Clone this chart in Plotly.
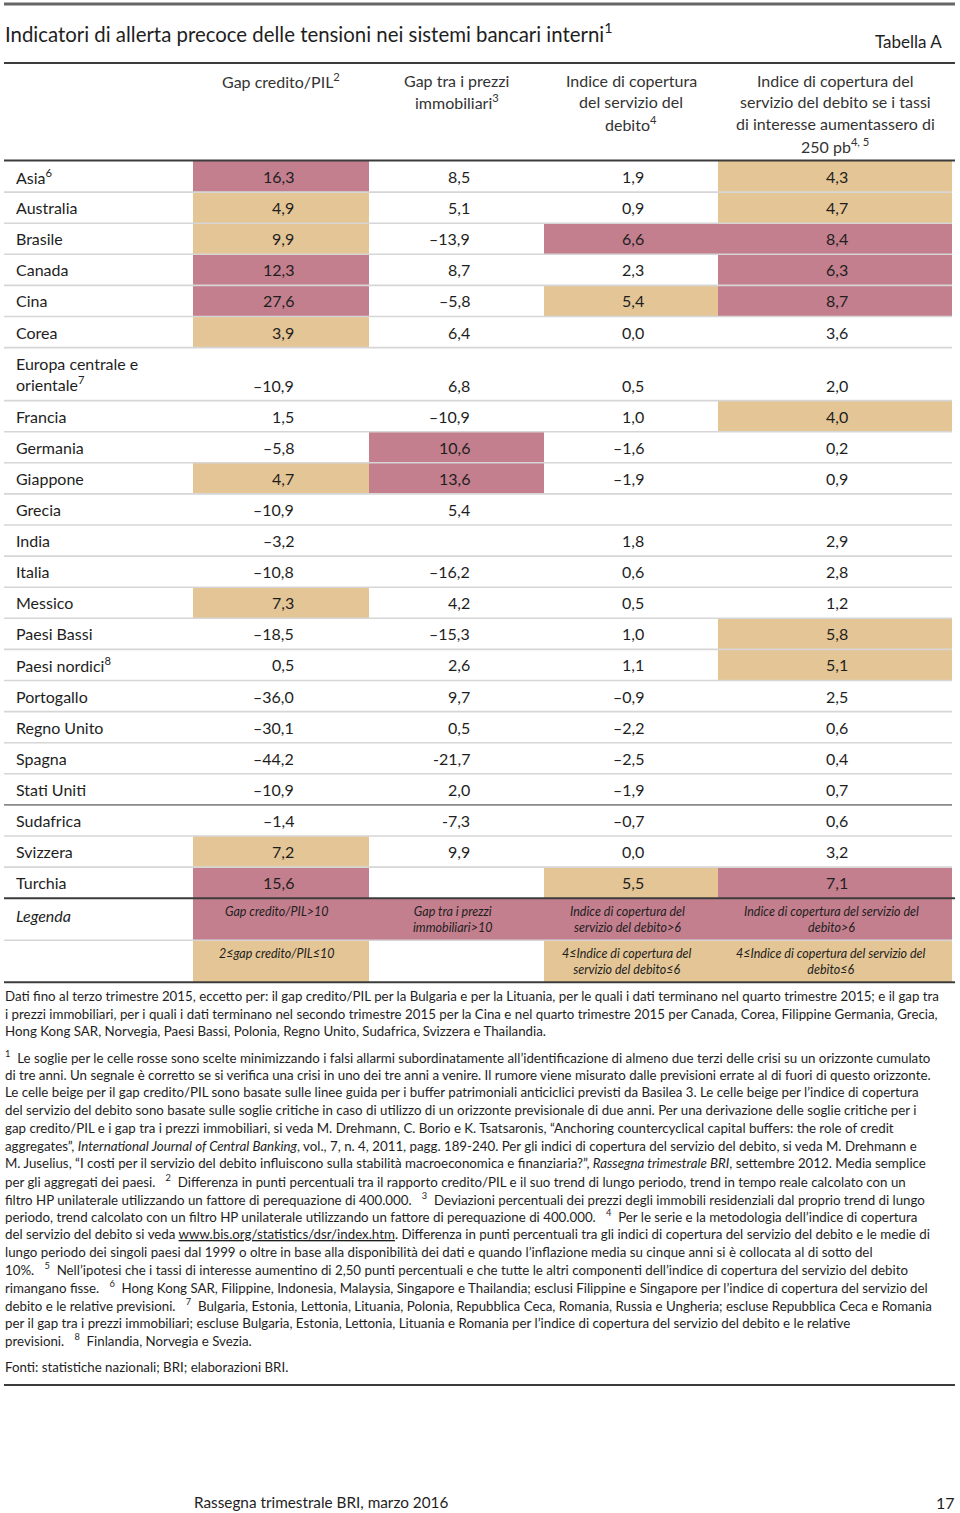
import plotly.graph_objects as go

# ---------------- data ----------------
countries = ["Asia<sup>6</sup>", "Australia", "Brasile", "Canada", "Cina", "Corea",
             "Europa centrale e<br>orientale<sup>7</sup>", "Francia", "Germania", "Giappone",
             "Grecia", "India", "Italia", "Messico", "Paesi Bassi", "Paesi nordici<sup>8</sup>",
             "Portogallo", "Regno Unito", "Spagna", "Stati Uniti", "Sudafrica", "Svizzera", "Turchia"]
credit_gap = [16.3, 4.9, 9.9, 12.3, 27.6, 3.9, -10.9, 1.5, -5.8, 4.7, -10.9, -3.2, -10.8, 7.3,
              -18.5, 0.5, -36.0, -30.1, -44.2, -10.9, -1.4, 7.2, 15.6]
property_gap = [8.5, 5.1, -13.9, 8.7, -5.8, 6.4, 6.8, -10.9, 10.6, 13.6, 5.4, None, -16.2, 4.2,
                -15.3, 2.6, 9.7, 0.5, -21.7, 2.0, -7.3, 9.9, None]
dsr = [1.9, 0.9, 6.6, 2.3, 5.4, 0.0, 0.5, 1.0, -1.6, -1.9, None, 1.8, 0.6, 0.5, 1.0, 1.1, -0.9,
       -2.2, -2.5, -1.9, -0.7, 0.0, 5.5]
dsr_250 = [4.3, 4.7, 8.4, 6.3, 8.7, 3.6, 2.0, 4.0, 0.2, 0.9, None, 2.9, 2.8, 1.2, 5.8, 5.1, 2.5,
           0.6, 0.4, 0.7, 0.6, 3.2, 7.1]
hyphen_cells = [(18, 1), (20, 1)]  # cells printed with a plain hyphen in the source

headers = ["Gap credito/PIL<sup>2</sup>",
           "Gap tra i prezzi<br>immobiliari<sup>3</sup>",
           "Indice di copertura<br>del servizio del<br>debito<sup>4</sup>",
           "Indice di copertura del<br>servizio del debito se i tassi<br>di interesse aumentassero di<br>250 pb<sup>4, 5</sup>"]
red_threshold = [10, 10, 6, 6]
beige_threshold = [2, None, 4, 4]
legend_red = ["Gap credito/PIL>10", "Gap tra i prezzi<br>immobiliari>10",
              "Indice di copertura del<br>servizio del debito>6",
              "Indice di copertura del servizio del<br>debito>6"]
legend_beige = ["2≤gap credito/PIL≤10", "",
                "4≤Indice di copertura del<br>servizio del debito≤6",
                "4≤Indice di copertura del servizio del<br>debito≤6"]
legend_beige_class = [1, 0, 1, 1]

title = "Indicatori di allerta precoce delle tensioni nei sistemi bancari interni<sup>1</sup>"
table_tag = "Tabella A"
note_lines = [
    "Dati fino al terzo trimestre 2015, eccetto per: il gap credito/PIL per la Bulgaria e per la Lituania, per le quali i dati terminano nel quarto trimestre 2015; e il gap tra",
    "i prezzi immobiliari, per i quali i dati terminano nel secondo trimestre 2015 per la Cina e nel quarto trimestre 2015 per Canada, Corea, Filippine Germania, Grecia,",
    "Hong Kong SAR, Norvegia, Paesi Bassi, Polonia, Regno Unito, Sudafrica, Svizzera e Thailandia.",
]
S = "\u00a0\u00a0\u00a0"
foot_lines = [
    "<sup>1</sup>\u00a0 Le soglie per le celle rosse sono scelte minimizzando i falsi allarmi subordinatamente all’identificazione di almeno due terzi delle crisi su un orizzonte cumulato",
    "di tre anni. Un segnale è corretto se si verifica una crisi in uno dei tre anni a venire. Il rumore viene misurato dalle previsioni errate al di fuori di questo orizzonte.",
    "Le celle beige per il gap credito/PIL sono basate sulle linee guida per i buffer patrimoniali anticiclici previsti da Basilea 3. Le celle beige per l’indice di copertura",
    "del servizio del debito sono basate sulle soglie critiche in caso di utilizzo di un orizzonte previsionale di due anni. Per una derivazione delle soglie critiche per i",
    "gap credito/PIL e i gap tra i prezzi immobiliari, si veda M. Drehmann, C. Borio e K. Tsatsaronis, “Anchoring countercyclical capital buffers: the role of credit",
    "aggregates”, <i>International Journal of Central Banking</i>, vol., 7, n. 4, 2011, pagg. 189-240. Per gli indici di copertura del servizio del debito, si veda M. Drehmann e",
    "M. Juselius, “I costi per il servizio del debito influiscono sulla stabilità macroeconomica e finanziaria?”, <i>Rassegna trimestrale BRI</i>, settembre 2012. Media semplice",
    "per gli aggregati dei paesi." + S + "<sup>2</sup>\u00a0 Differenza in punti percentuali tra il rapporto credito/PIL e il suo trend di lungo periodo, trend in tempo reale calcolato con un",
    "filtro HP unilaterale utilizzando un fattore di perequazione di 400.000." + S + "<sup>3</sup>\u00a0 Deviazioni percentuali dei prezzi degli immobili residenziali dal proprio trend di lungo",
    "periodo, trend calcolato con un filtro HP unilaterale utilizzando un fattore di perequazione di 400.000." + S + "<sup>4</sup>\u00a0 Per le serie e la metodologia dell’indice di copertura",
    "del servizio del debito si veda <span style=\"text-decoration:underline\">www.bis.org/statistics/dsr/index.htm</span>. Differenza in punti percentuali tra gli indici di copertura del servizio del debito e le medie di",
    "lungo periodo dei singoli paesi dal 1999 o oltre in base alla disponibilità dei dati e quando l’inflazione media su cinque anni si è collocata al di sotto del",
    "10%." + S + "<sup>5</sup>\u00a0 Nell’ipotesi che i tassi di interesse aumentino di 2,50 punti percentuali e che tutte le altri componenti dell’indice di copertura del servizio del debito",
    "rimangano fisse." + S + "<sup>6</sup>\u00a0 Hong Kong SAR, Filippine, Indonesia, Malaysia, Singapore e Thailandia; esclusi Filippine e Singapore per l’indice di copertura del servizio del",
    "debito e le relative previsioni." + S + "<sup>7</sup>\u00a0 Bulgaria, Estonia, Lettonia, Lituania, Polonia, Repubblica Ceca, Romania, Russia e Ungheria; escluse Repubblica Ceca e Romania",
    "per il gap tra i prezzi immobiliari; escluse Bulgaria, Estonia, Lettonia, Lituania e Romania per l’indice di copertura del servizio del debito e le relative",
    "previsioni." + S + "<sup>8</sup>\u00a0 Finlandia, Norvegia e Svezia.",
]
sources = "Fonti: statistiche nazionali; BRI; elaborazioni BRI."
footer_left = "Rassegna trimestrale BRI, marzo 2016"
footer_right = "17"

# ---------------- style / layout ----------------
W, H = 960, 1513
FONT = "Lato, 'Open Sans', sans-serif"
TXT = "#1e1e1e"
PINK = "#C47F8E"
BEIGE = "#E4C595"
LIGHT = "#d6d6d6"
DARK = "#3c3c3c"
col_edges = [193, 369, 544, 718, 952]
table_left, table_right = 4, 955
header_bottom = 161
header_first_line, header_line_step = 80, 21.7
body_row_h = 31.1
tall_row_h = 53
legend_row_h = 42
num_offset = 15        # numbers right-aligned this far right of column centre
note_size = 13.3

# ---------------- derived ----------------
columns = [credit_gap, property_gap, dsr, dsr_250]
nrows = len(countries)
row_heights = [tall_row_h if "<br>" in c else body_row_h for c in countries] + [legend_row_h, legend_row_h]
row_edges = [header_bottom]
for h in row_heights:
    row_edges.append(row_edges[-1] + h)
col_centers = [(col_edges[i] + col_edges[i + 1]) / 2 for i in range(4)]


def cls(v, j):
    if v is None:
        return 0
    if v > red_threshold[j]:
        return 2
    if beige_threshold[j] is not None and beige_threshold[j] <= v <= red_threshold[j]:
        return 1
    return 0


z = [[cls(columns[j][i], j) for j in range(4)] for i in range(nrows)]
z.append([2, 2, 2, 2])
z.append(legend_beige_class)


def fmt(v, i, j):
    if v is None:
        return ""
    s = f"{abs(v):.1f}".replace(".", ",")
    if v < 0:
        s = ("-" if (i, j) in hyphen_cells else "–") + s
    return s


fig = go.Figure()
fig.add_trace(go.Heatmap(
    x=col_edges, y=row_edges, z=z, zmin=0, zmax=2,
    colorscale=[[0, "white"], [0.5, BEIGE], [1, PINK]],
    showscale=False, hoverinfo="skip", xgap=0, ygap=0,
))

ann = []


def add(text, x, y, size=16, xa="left", ya="middle", color=TXT, align="left"):
    ann.append(dict(text=text, x=x, y=y, xref="x", yref="y", showarrow=False,
                    xanchor=xa, yanchor=ya, align=align,
                    font=dict(family=FONT, size=size, color=color)))


add(title, 3, 32, size=20.4)
add(table_tag, 944, 41, size=17, xa="right")
for j, h in enumerate(headers):
    for k, line in enumerate(h.split("<br>")):
        add(line, col_centers[j], header_first_line + k * header_line_step,
            size=16, xa="center", align="center", color="#333")

for i, c in enumerate(countries):
    add(c, 14, (row_edges[i] + row_edges[i + 1]) / 2)
    yv = row_edges[i + 1] - body_row_h / 2
    for j in range(4):
        t = fmt(columns[j][i], i, j)
        if t:
            add(t, col_centers[j] + num_offset, yv, xa="right")

leg_top = row_edges[nrows]
add("<i>Legenda</i>", 14, leg_top + 17)
for k, row in enumerate([legend_red, legend_beige]):
    top = row_edges[nrows + k]
    for j, t in enumerate(row):
        if t:
            add("<i>" + t + "</i>", col_centers[j] - 4, top + 4, size=12.5, xa="center", ya="top", align="center")

note_start, line_step = 996, 17.7
for k, t in enumerate(note_lines):
    add(t, 3, note_start + k * line_step, size=note_size)
foot_start = 1057
for k, t in enumerate(foot_lines):
    add(t, 3, foot_start + k * line_step, size=note_size)
add(sources, 3, foot_start + len(foot_lines) * line_step + 9, size=note_size)
add(footer_left, 192, 1502, size=15.3)
add(footer_right, 957, 1502, size=16, xa="right")

shapes = []


def hline(y, color, width, x0=table_left, x1=952):
    shapes.append(dict(type="line", xref="x", yref="y", x0=x0, x1=x1, y0=y, y1=y,
                       line=dict(color=color, width=width)))


for i in range(1, nrows):
    dark_sep = countries[i] == "Sudafrica"
    hline(row_edges[i], "#8a8a8a" if dark_sep else LIGHT, 1.6)
hline(row_edges[nrows + 1], LIGHT, 1.6)
hline(4, "#666", 3, x1=table_right)
hline(63, DARK, 2, x1=table_right)
hline(header_bottom - 0.5, DARK, 2, x1=table_right)
hline(row_edges[nrows], DARK, 2, x1=table_right)
hline(row_edges[-1], DARK, 2, x1=table_right)
hline(1385, DARK, 2, x1=table_right)

fig.update_layout(
    width=W, height=H, margin=dict(l=0, r=0, t=0, b=0),
    paper_bgcolor="white", plot_bgcolor="white",
    xaxis=dict(range=[0, W], visible=False, fixedrange=True),
    yaxis=dict(range=[H, 0], visible=False, fixedrange=True),
    annotations=ann, shapes=shapes, showlegend=False,
)
fig.write_html("out.html", config={"displayModeBar": False},
               post_script="document.body.style.margin='0';document.body.style.overflow='hidden';")
